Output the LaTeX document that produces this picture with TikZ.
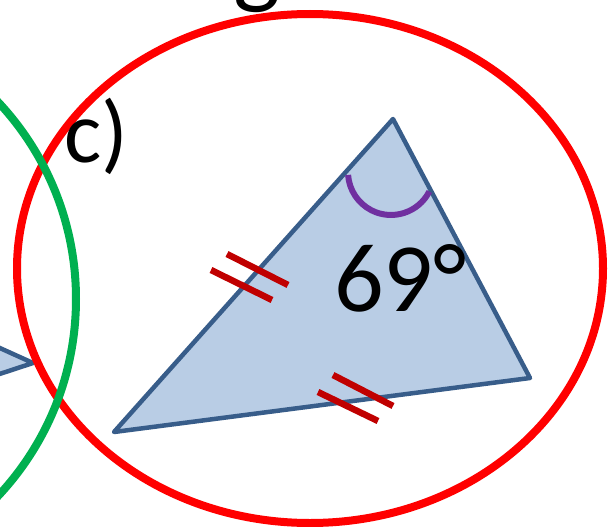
\documentclass[tikz,border=0pt]{standalone}
\usepackage{fontspec}
\setmainfont{Carlito}

\definecolor{triFill}{HTML}{B9CDE5}
\definecolor{triLine}{HTML}{385D8A}
\definecolor{tickRed}{HTML}{C00000}
\definecolor{arcPurple}{HTML}{7030A0}
\definecolor{ringGreen}{HTML}{00B050}
\definecolor{ringRed}{HTML}{FF0000}

\begin{document}
\begin{tikzpicture}[x=1pt, y=-1pt,
  triangle/.style={fill=triFill, draw=triLine, line width=4.5, line join=round},
  tickmark/.style={tickRed, line width=6.5},
  ring/.style={line width=8}]

  \useasboundingbox (0,0) rectangle (608,527);
  \clip (0,0) rectangle (608,527);

  % ==========================================
  % RESTES DES FIGURES VOISINES
  % ==========================================
  % Bout du triangle de la figure b)
  \filldraw[triangle] (-40,330) -- (33,363) -- (-40,387) -- cycle;

  % Lettre du titre, coupée en haut
  \node[anchor=base west, inner sep=0pt, font=\fontsize{100}{100}\selectfont] (titleG) at (233,-4) {g};

  % ==========================================
  % FIGURE c)
  % ==========================================
  % Ellipse rouge autour de la figure
  \draw[ring, ringRed] (310,268.5) ellipse (293 and 254.5);
  % Cercle vert de la figure b)
  \draw[ring, ringGreen] (-212,299) circle (288);

  \node[anchor=base west, inner sep=0pt, font=\fontsize{88}{88}\selectfont] (labelC) at (64,162) {c)};

  % Sommets du triangle
  \coordinate (apexTop) at (393,119);
  \coordinate (apexRight) at (530,378);
  \coordinate (apexLeft) at (114,432);
  \filldraw[triangle] (apexTop) -- (apexRight) -- (apexLeft) -- cycle;

  % Angle au sommet
  \draw[arcPurple, line width=6] (429.3,191.5) arc[start angle=27, end angle=176, radius=43];
  \node[anchor=base west, inner sep=0pt, font=\fontsize{98}{98}\selectfont] (angleText) at (334,311) {69°};

  % Côtés égaux
  \draw[tickmark] (227,254) -- (288,285);
  \draw[tickmark] (211,270) -- (272,300);
  \draw[tickmark] (333,375) -- (393,406);
  \draw[tickmark] (318,392) -- (378,421);

\end{tikzpicture}
\end{document}
